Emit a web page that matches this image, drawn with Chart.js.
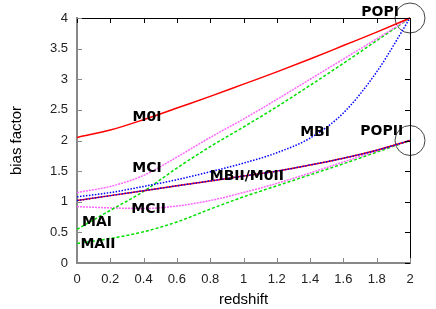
<!DOCTYPE html>
<html><head><meta charset="utf-8">
<script src="https://cdn.jsdelivr.net/npm/chart.js@4"></script>
<style>html,body{margin:0;padding:0;background:#fff}#c{display:block}</style>
</head><body>
<canvas id="c" width="436" height="309"></canvas>
<script>
const redshift = [0,0.2,0.4,0.6,0.8,1.0,1.2,1.4,1.6,1.8,2.0];
const M0I  = [2.05,2.17,2.34,2.53,2.72,2.92,3.12,3.33,3.55,3.77,4.0];
const MCI  = [1.15,1.25,1.43,1.73,2.05,2.35,2.67,3.0,3.33,3.66,4.0];
const MAI  = [0.55,0.86,1.17,1.55,1.9,2.22,2.55,2.9,3.26,3.63,4.0];
const MBI  = [1.08,1.15,1.25,1.36,1.49,1.63,1.8,2.04,2.45,3.12,4.0];
const M0II = [1.02,1.1,1.18,1.26,1.34,1.42,1.5,1.6,1.71,1.84,2.0];
const MBII = [1.02,1.1,1.18,1.26,1.34,1.42,1.5,1.6,1.71,1.84,2.0];
const MCII = [0.92,0.9,0.89,0.93,1.02,1.15,1.3,1.47,1.65,1.83,2.0];
const MAII = [0.32,0.4,0.51,0.67,0.88,1.08,1.26,1.44,1.62,1.81,2.0];
const popZ = [2,2];
const popB = [4,2];
const xTickLabels = ['0','0.2','0.4','0.6','0.8','1','1.2','1.4','1.6','1.8','2'];
const yTickLabels = ['0','0.5','1','1.5','2','2.5','3','3.5','4'];
const labelText = ['M0I','MCI','MBII/M0II','MCII','MAI','MAII','MBI','POPI','POPII'];
const labelZ = [0.42,0.42,1.02,0.43,0.12,0.126,1.43,1.82,1.83];
const labelB = [2.38,1.55,1.42,0.88,0.66,0.31,2.13,4.1,2.155];

const pts = arr => redshift.map((x,i)=>({x:x,y:arr[i]}));
function line(arr,color,dash,w){
  return {data:pts(arr),borderColor:color,borderWidth:w||1.5,borderDash:dash||[],
    pointRadius:0,fill:false,cubicInterpolationMode:'monotone',clip:false};
}

const framePlugin = {
  id:'frame',
  afterDatasetsDraw(chart){
    const ctx = chart.ctx, a = chart.chartArea, xs = chart.scales.x, ys = chart.scales.y;
    ctx.save();
    ctx.strokeStyle = '#000'; ctx.lineWidth = 1;
    ctx.beginPath();
    ctx.moveTo(a.left, a.top+0.5); ctx.lineTo(a.right+0.5, a.top+0.5);
    ctx.lineTo(a.right+0.5, a.bottom);
    ctx.stroke();
    const L = 5;
    xs.ticks.forEach(t=>{
      const px = Math.round(xs.getPixelForValue(t.value))+0.5;
      ctx.strokeStyle='#000'; ctx.beginPath(); ctx.moveTo(px,a.top); ctx.lineTo(px,a.top+L); ctx.stroke();
      ctx.strokeStyle='#888'; ctx.beginPath(); ctx.moveTo(px,a.bottom); ctx.lineTo(px,a.bottom-L); ctx.stroke();
    });
    ys.ticks.forEach(t=>{
      const py = Math.round(ys.getPixelForValue(t.value))+0.5;
      ctx.strokeStyle='#888'; ctx.beginPath(); ctx.moveTo(a.left,py); ctx.lineTo(a.left+L,py); ctx.stroke();
      ctx.strokeStyle='#000'; ctx.beginPath(); ctx.moveTo(a.right,py); ctx.lineTo(a.right-L,py); ctx.stroke();
    });
    ctx.fillStyle='#000'; ctx.font='bold 14px "DejaVu Sans"';
    ctx.textAlign='center'; ctx.textBaseline='middle';
    labelText.forEach((s,i)=>{
      ctx.fillText(s, xs.getPixelForValue(labelZ[i]), ys.getPixelForValue(labelB[i]));
    });
    ctx.restore();
  }
};

new Chart(document.getElementById('c'),{
  type:'line',
  data:{datasets:[
    line(M0I,'#ff0000',[],1.5),
    line(MBI,'#0000ff',[1.5,1.5],1.5),
    line(MBII,'#0000ff',[1.5,1.5],1.5),
    line(M0II,'#ff0000',[],1.5),
    line(MCI,'#ff66ff',[2,1],1.5),
    line(MAI,'#00e000',[3,2],1.5),
    line(MCII,'#ff66ff',[2,1],1.5),
    line(MAII,'#00e000',[3,2],1.5),
    {data:popZ.map((x,i)=>({x:x,y:popB[i]})),showLine:false,pointRadius:15,pointHoverRadius:15,
     pointBorderColor:'#444',pointBackgroundColor:'rgba(0,0,0,0)',pointBorderWidth:1,clip:false}
  ]},
  options:{
    responsive:false,animation:false,
    layout:{padding:{left:0,right:26,top:18,bottom:0}},
    plugins:{legend:{display:false},tooltip:{enabled:false}},
    scales:{
      x:{type:'linear',min:0,max:2,
        ticks:{stepSize:0.2,padding:9,color:'#222',font:{family:'Liberation Sans',size:13},
          callback:(v,i)=>xTickLabels[i]},
        grid:{display:false,drawTicks:false},
        border:{display:true,color:'#888',width:2},
        title:{display:true,text:'redshift',color:'#000',font:{family:'Liberation Sans',size:15},padding:{top:-2,bottom:0}},
        afterFit:s=>{s.height=46;}
      },
      y:{type:'linear',min:0,max:4,
        ticks:{stepSize:0.5,padding:9,color:'#222',font:{family:'Liberation Sans',size:13},
          callback:(v,i)=>yTickLabels[i]},
        grid:{display:false,drawTicks:false},
        border:{display:true,color:'#888',width:2},
        title:{display:true,text:'bias factor',color:'#000',font:{family:'Liberation Sans',size:15},padding:{top:7.5,bottom:0}},
        afterFit:s=>{s.width=77;}
      }
    }
  },
  plugins:[framePlugin]
});
</script>
</body></html>
